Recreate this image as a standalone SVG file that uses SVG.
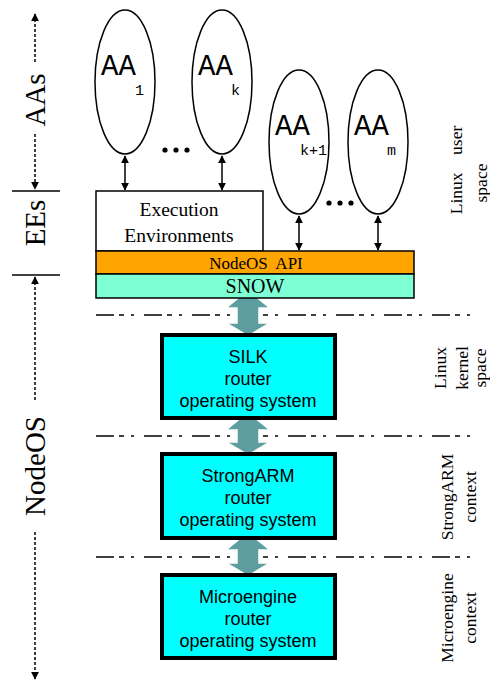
<svg xmlns="http://www.w3.org/2000/svg" width="490" height="681" viewBox="0 0 490 681">
<defs>
<marker id="ah" viewBox="0 0 10 10" refX="9" refY="5" markerWidth="8" markerHeight="10" markerUnits="userSpaceOnUse" orient="auto-start-reverse"><path d="M0,0 L10,5 L0,10 Z" fill="#000"/></marker>
<style>
.ser{font-family:"Liberation Serif","DejaVu Serif",serif;fill:#000}
.mono{font-family:"Liberation Mono","DejaVu Sans Mono",monospace;fill:#000}
.sans{font-family:"Liberation Sans",Arial,sans-serif;fill:#000;font-size:18px;text-anchor:middle}
.ell{fill:#fff;stroke:#000;stroke-width:1.5}
.dot{stroke:#000;stroke-width:1.5;stroke-dasharray:3 2;fill:none}
.sm{stroke:#000;stroke-width:1.5;fill:none}
.dash{stroke:#000;stroke-width:1.5;stroke-dasharray:18 5 5 7 3 10;fill:none}
.big{fill:#5f9ea0;stroke:#fff;stroke-width:1.5}
.cy{fill:#00ffff;stroke:#000;stroke-width:4}
.lab{font-size:17.5px;text-anchor:middle}
</style>
</defs>
<rect width="490" height="681" fill="#fff"/>

<g id="axis">
<line class="dot" x1="35" y1="14" x2="35" y2="64" marker-start="url(#ah)"/>
<line class="dot" x1="35" y1="134" x2="35" y2="189" marker-end="url(#ah)"/>
<line class="sm" x1="12" y1="191" x2="60" y2="191"/>
<line class="sm" x1="12" y1="275" x2="60" y2="275"/>
<line class="dot" x1="35" y1="400" x2="35" y2="277" marker-end="url(#ah)"/>
<line class="dot" x1="35" y1="532" x2="35" y2="679" marker-end="url(#ah)"/>
<text class="ser" font-size="29" text-anchor="middle" transform="translate(45,100) rotate(-90)">AAs</text>
<text class="ser" font-size="29" text-anchor="middle" transform="translate(45,223) rotate(-90)">EEs</text>
<text class="ser" font-size="29" text-anchor="middle" transform="translate(45,466) rotate(-90)">NodeOS</text>
</g>

<g id="separators">
<line class="dash" x1="96" y1="315" x2="473" y2="315"/>
<line class="dash" x1="96" y1="436" x2="473" y2="436"/>
<line class="dash" x1="96" y1="557" x2="473" y2="557"/>
</g>

<g id="connectors">
<line class="sm" x1="125" y1="156" x2="125" y2="190" marker-start="url(#ah)" marker-end="url(#ah)"/>
<line class="sm" x1="222" y1="156" x2="222" y2="190" marker-start="url(#ah)" marker-end="url(#ah)"/>
<line class="sm" x1="299" y1="216" x2="299" y2="250" marker-start="url(#ah)" marker-end="url(#ah)"/>
<line class="sm" x1="378" y1="216" x2="378" y2="250" marker-start="url(#ah)" marker-end="url(#ah)"/>
<path class="big" d="M248,290 L270,308 L259,308 L259,323 L270,323 L248,336 L226,323 L237,323 L237,308 L226,308 Z"/>
<path class="big" d="M248,412 L270,430 L259,430 L259,442 L270,442 L248,455 L226,442 L237,442 L237,430 L226,430 Z"/>
<path class="big" d="M248,532 L270,550 L259,550 L259,563 L270,563 L248,576 L226,563 L237,563 L237,550 L226,550 Z"/>
</g>

<g id="aa1">
<ellipse class="ell" cx="125" cy="82" rx="30" ry="72"/>
<text class="mono" font-size="29" x="101" y="75">AA</text>
<text class="mono" font-size="15" x="135" y="95">1</text>
</g>
<g id="aak">
<ellipse class="ell" cx="222" cy="82" rx="30" ry="72"/>
<text class="mono" font-size="29" x="198" y="75">AA</text>
<text class="mono" font-size="15" x="231" y="95">k</text>
</g>
<g id="aak1">
<ellipse class="ell" cx="299" cy="142" rx="30" ry="72"/>
<text class="mono" font-size="29" x="275" y="135">AA</text>
<text class="mono" font-size="15" x="300" y="155">k+1</text>
</g>
<g id="aam">
<ellipse class="ell" cx="378" cy="142" rx="30" ry="72"/>
<text class="mono" font-size="29" x="354" y="135">AA</text>
<text class="mono" font-size="15" x="387" y="155">m</text>
</g>
<g id="dots">
<circle cx="165" cy="150" r="2.6"/><circle cx="176" cy="150" r="2.6"/><circle cx="187" cy="150" r="2.6"/>
<circle cx="329" cy="203" r="2.6"/><circle cx="340" cy="203" r="2.6"/><circle cx="351" cy="203" r="2.6"/>
</g>

<g id="ee">
<rect x="96" y="191" width="167" height="60" fill="#fff" stroke="#000" stroke-width="1.5"/>
<text class="ser" font-size="19.5" text-anchor="middle" x="179" y="216">Execution</text>
<text class="ser" font-size="19.5" text-anchor="middle" x="179" y="242">Environments</text>
</g>
<g id="api">
<rect x="96" y="251" width="318" height="23" fill="#ffa500" stroke="#000" stroke-width="1.5"/>
<text class="ser" font-size="17" text-anchor="middle" x="256" y="269" xml:space="preserve">NodeOS  API</text>
</g>
<g id="snow">
<rect x="96" y="274" width="318" height="24" fill="#7fffd4" stroke="#000" stroke-width="1.5"/>
<text class="ser" font-size="20" text-anchor="middle" x="255" y="293">SNOW</text>
</g>

<g id="silk">
<rect class="cy" x="162" y="335" width="173" height="83"/>
<text class="sans" x="248" y="363">SILK</text>
<text class="sans" x="248" y="385">router</text>
<text class="sans" x="248" y="407">operating system</text>
</g>
<g id="strongarm">
<rect class="cy" x="162" y="454" width="173" height="84"/>
<text class="sans" x="248" y="482">StrongARM</text>
<text class="sans" x="248" y="504">router</text>
<text class="sans" x="248" y="526">operating system</text>
</g>
<g id="microengine">
<rect class="cy" x="162" y="575" width="173" height="83"/>
<text class="sans" x="248" y="603">Microengine</text>
<text class="sans" x="248" y="625">router</text>
<text class="sans" x="248" y="647">operating system</text>
</g>

<g id="labels">
<text class="ser lab" transform="translate(462,170) rotate(-90)" xml:space="preserve">Linux    user</text>
<text class="ser lab" transform="translate(487,183) rotate(-90)">space</text>
<text class="ser lab" transform="translate(446,368) rotate(-90)">Linux</text>
<text class="ser lab" transform="translate(468,368) rotate(-90)">kernel</text>
<text class="ser lab" transform="translate(486,368) rotate(-90)">space</text>
<text class="ser lab" transform="translate(453,497) rotate(-90)">StrongARM</text>
<text class="ser lab" transform="translate(476,497) rotate(-90)">context</text>
<text class="ser lab" transform="translate(453,618) rotate(-90)">Microengine</text>
<text class="ser lab" transform="translate(476,618) rotate(-90)">context</text>
</g>
</svg>
